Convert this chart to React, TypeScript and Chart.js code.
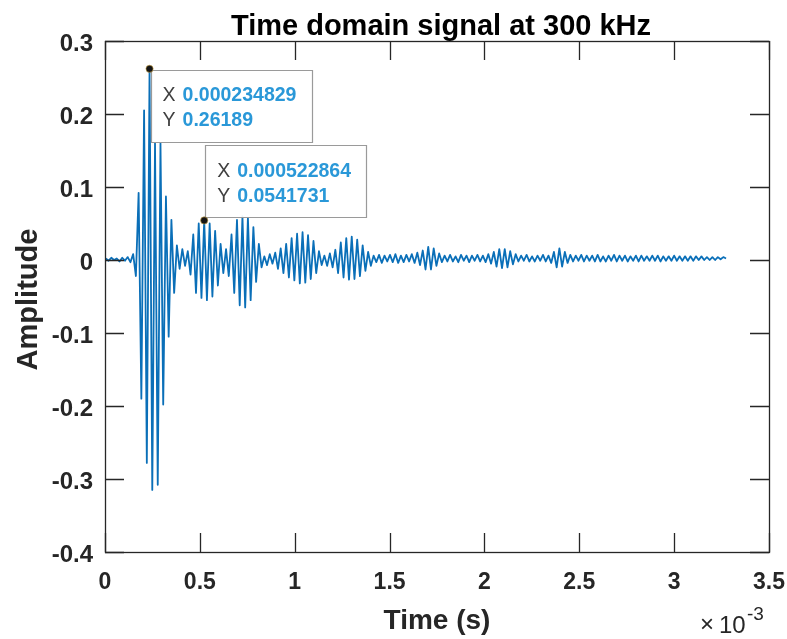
import React, { useEffect, useRef } from 'react';
import { Chart, registerables } from 'chart.js';

Chart.register(...registerables);

// ---- data ----
const titleText = 'Time domain signal at 300 kHz';
const xLabelText = 'Time (s)';
const yLabelText = 'Amplitude';
const xExponentTimes = '\u00D7';
const xExponentBase = '10';
const xExponent = '-3';

// sample instants: first sample time and spacing between successive extrema (seconds)
const sampleStart = 4.4e-6;
const sampleSpacing = 14.4018e-6;

// amplitude at each sample (alternating extrema of the trace)
const amplitude = [
  0.002, -0.001, 0.003, 0.0, 0.002, -0.002, 0.003, -0.001, 0.004, -0.003,
  0.008, -0.022, 0.092, -0.19, 0.205, -0.278, 0.26189, -0.315, 0.16, -0.308,
  0.16, -0.198, 0.087, -0.105, 0.055, -0.045, 0.02, -0.012, 0.015, -0.008,
  0.012, -0.02, 0.035, -0.045, 0.05, -0.052, 0.0541731, -0.055, 0.05, -0.05,
  0.04, -0.035, 0.022, -0.018, 0.015, -0.022, 0.035, -0.045, 0.055, -0.062,
  0.06, -0.065, 0.058, -0.055, 0.045, -0.03, 0.022, -0.01, 0.005, -0.007,
  0.008, -0.005, 0.01, -0.012, 0.016, -0.018, 0.022, -0.024, 0.03, -0.028,
  0.036, -0.032, 0.038, -0.031, 0.034, -0.026, 0.026, -0.018, 0.012, -0.007,
  0.006, -0.008, 0.009, -0.01, 0.014, -0.018, 0.024, -0.024, 0.03, -0.027,
  0.032, -0.026, 0.028, -0.022, 0.02, -0.015, 0.011, -0.008, 0.006, -0.003,
  0.007, -0.004, 0.006, -0.002, 0.007, -0.003, 0.008, -0.004, 0.006, -0.003,
  0.007, -0.002, 0.008, -0.004, 0.01, -0.007, 0.013, -0.013, 0.018, -0.013,
  0.016, -0.008, 0.009, -0.003, 0.006, -0.002, 0.007, -0.002, 0.005, -0.003,
  0.007, -0.001, 0.006, -0.003, 0.006, -0.001, 0.007, -0.002, 0.006, -0.003,
  0.008, -0.005, 0.011, -0.009, 0.015, -0.011, 0.015, -0.01, 0.012, -0.006,
  0.008, -0.002, 0.006, -0.001, 0.007, -0.002, 0.005, -0.002, 0.006, -0.001,
  0.007, -0.002, 0.006, -0.004, 0.011, -0.01, 0.016, -0.009, 0.011, -0.004,
  0.007, -0.002, 0.006, -0.001, 0.007, -0.002, 0.006, -0.001, 0.006, -0.002,
  0.007, -0.002, 0.005, -0.002, 0.006, -0.001, 0.007, -0.002, 0.006, -0.001,
  0.006, -0.002, 0.005, -0.001, 0.006, -0.002, 0.006, -0.001, 0.005, -0.001,
  0.006, -0.001, 0.006, -0.002, 0.005, -0.001, 0.005, -0.001, 0.006, -0.001,
  0.005, -0.001, 0.005, -0.001, 0.005, -0.001, 0.005, 0.0, 0.005, 0.0,
  0.004, 0.0, 0.004, 0.0, 0.004, 0.001, 0.004, 0.002,
];

const xTicksMs = [0, 0.5, 1, 1.5, 2, 2.5, 3, 3.5];
const xTickLabels = ['0', '0.5', '1', '1.5', '2', '2.5', '3', '3.5'];
const yTicks = [-0.4, -0.3, -0.2, -0.1, 0, 0.1, 0.2, 0.3];
const yTickLabels = ['-0.4', '-0.3', '-0.2', '-0.1', '0', '0.1', '0.2', '0.3'];

// data tips
const tipX = [0.000234829, 0.000522864];
const tipY = [0.26189, 0.0541731];
const tipXText = ['0.000234829', '0.000522864'];
const tipYText = ['0.26189', '0.0541731'];

// ---- styles ----
const FONT = '"Liberation Sans", Arial, Helvetica, sans-serif';
const AXIS_COLOR = '#262626';
const LINE_COLOR = '#0a6fb8';
const TIP_VALUE_COLOR = '#2a98d8';
const TICK_LEN = 19;

const decorPlugin = {
  id: 'decor',
  afterDatasetsDraw(chart: any) {
    const { ctx, chartArea: a, scales } = chart;
    const xs = scales.x;
    const ys = scales.y;
    ctx.save();
    // axes box
    ctx.strokeStyle = AXIS_COLOR;
    ctx.lineWidth = 1.3;
    ctx.strokeRect(Math.round(a.left) + 0.5, Math.round(a.top) + 0.5, Math.round(a.right - a.left), Math.round(a.bottom - a.top));
    // inward ticks
    ctx.beginPath();
    xTicksMs.forEach((v) => {
      const p = Math.round(xs.getPixelForValue(v * 1e-3)) + 0.5;
      ctx.moveTo(p, a.bottom);
      ctx.lineTo(p, a.bottom - TICK_LEN);
      ctx.moveTo(p, a.top);
      ctx.lineTo(p, a.top + TICK_LEN);
    });
    yTicks.forEach((v) => {
      const p = Math.round(ys.getPixelForValue(v)) + 0.5;
      ctx.moveTo(a.left, p);
      ctx.lineTo(a.left + TICK_LEN, p);
      ctx.moveTo(a.right, p);
      ctx.lineTo(a.right - TICK_LEN, p);
    });
    ctx.stroke();

    // title
    const cx = (a.left + a.right) / 2;
    ctx.fillStyle = '#000';
    ctx.textAlign = 'center';
    ctx.textBaseline = 'alphabetic';
    ctx.font = `bold 29px ${FONT}`;
    ctx.fillText(titleText, cx + 4, 35);
    // x label
    ctx.fillStyle = '#262626';
    ctx.font = `bold 28px ${FONT}`;
    ctx.fillText(xLabelText, cx, 629);
    // y label
    ctx.save();
    ctx.translate(37, (a.top + a.bottom) / 2 + 3);
    ctx.rotate(-Math.PI / 2);
    ctx.textBaseline = 'alphabetic';
    ctx.font = `bold 29px ${FONT}`;
    ctx.fillText(yLabelText, 0, 0);
    ctx.restore();
    // exponent  (x10^-3)
    ctx.textAlign = 'left';
    ctx.font = `24px ${FONT}`;
    ctx.fillText(xExponentTimes, a.right - 69, 632);
    ctx.font = `24px ${FONT}`;
    ctx.fillText(xExponentBase, a.right - 50, 633);
    ctx.font = `19px ${FONT}`;
    ctx.fillText(xExponent, a.right - 22, 620);
    ctx.restore();
  },
  afterDraw(chart: any) {
    const { ctx, scales } = chart;
    const xs = scales.x;
    const ys = scales.y;
    ctx.save();
    tipX.forEach((tx, j) => {
      const px = xs.getPixelForValue(tx);
      const py = ys.getPixelForValue(tipY[j]);
      const bw = 161;
      const bh = 72;
      const left = px + 1;
      const top = j === 0 ? py + 1 : py - 3 - bh;
      // box
      ctx.fillStyle = 'rgba(255,255,255,0.93)';
      ctx.strokeStyle = '#9a9a9a';
      ctx.lineWidth = 1.2;
      ctx.beginPath();
      ctx.rect(Math.round(left) + 0.5, Math.round(top) + 0.5, bw, bh);
      ctx.fill();
      ctx.stroke();
      // text
      ctx.textBaseline = 'middle';
      ctx.textAlign = 'left';
      ctx.font = `19.5px ${FONT}`;
      ctx.fillStyle = '#404040';
      ctx.fillText('X', left + 12, top + 26);
      ctx.fillText('Y', left + 12, top + 51);
      ctx.font = `bold 19.5px ${FONT}`;
      ctx.fillStyle = TIP_VALUE_COLOR;
      ctx.fillText(tipXText[j], left + 32, top + 26);
      ctx.fillText(tipYText[j], left + 32, top + 51);
      // marker
      ctx.beginPath();
      ctx.arc(px, py, 3.6, 0, Math.PI * 2);
      ctx.fillStyle = '#151515';
      ctx.fill();
      ctx.strokeStyle = '#c8a040';
      ctx.lineWidth = 0.6;
      ctx.stroke();
    });
    ctx.restore();
  },
};

export default function App() {
  const canvasRef = useRef<HTMLCanvasElement | null>(null);

  useEffect(() => {
    const canvas = canvasRef.current;
    if (!canvas) return;
    const points = amplitude.map((a, i) => ({ x: sampleStart + i * sampleSpacing, y: a }));
    const chart = new Chart(canvas, {
      type: 'line',
      data: {
        datasets: [
          {
            data: points,
            borderColor: LINE_COLOR,
            borderWidth: 1.8,
            borderJoinStyle: 'round',
            pointRadius: 0,
            tension: 0,
            fill: false,
          },
        ],
      },
      options: {
        animation: false,
        responsive: false,
        devicePixelRatio: 1,
        layout: { padding: { top: 41, right: 18, left: 0, bottom: 0 } },
        plugins: {
          legend: { display: false },
          title: { display: false },
          tooltip: { enabled: false },
        },
        scales: {
          x: {
            type: 'linear',
            min: 0,
            max: 3.5e-3,
            grid: { display: false, drawTicks: false },
            border: { display: false },
            afterBuildTicks: (s: any) => {
              s.ticks = xTicksMs.map((v) => ({ value: v * 1e-3 }));
            },
            afterFit: (s: any) => {
              s.height = 87;
              s.paddingLeft = 0;
              s.paddingRight = 0;
            },
            ticks: {
              callback: (_v: any, i: number) => xTickLabels[i],
              font: { family: FONT, size: 23, weight: 'bold' },
              color: '#262626',
              padding: 17,
              maxRotation: 0,
              autoSkip: false,
            },
          },
          y: {
            type: 'linear',
            min: -0.4,
            max: 0.3,
            grid: { display: false, drawTicks: false },
            border: { display: false },
            afterBuildTicks: (s: any) => {
              s.ticks = yTicks.map((v) => ({ value: v }));
            },
            afterFit: (s: any) => {
              s.width = 105;
              s.paddingTop = 0;
              s.paddingBottom = 0;
            },
            ticks: {
              callback: (_v: any, i: number) => yTickLabels[i],
              font: { family: FONT, size: 24, weight: 'bold' },
              color: '#262626',
              padding: 12,
              labelOffset: 3,
              autoSkip: false,
            },
          },
        },
      },
      plugins: [decorPlugin],
    } as any);
    return () => chart.destroy();
  }, []);

  return (
    <canvas
      ref={canvasRef}
      width={787}
      height={639}
      style={{ position: 'absolute', left: 0, top: 0, width: 787, height: 639 }}
    />
  );
}
